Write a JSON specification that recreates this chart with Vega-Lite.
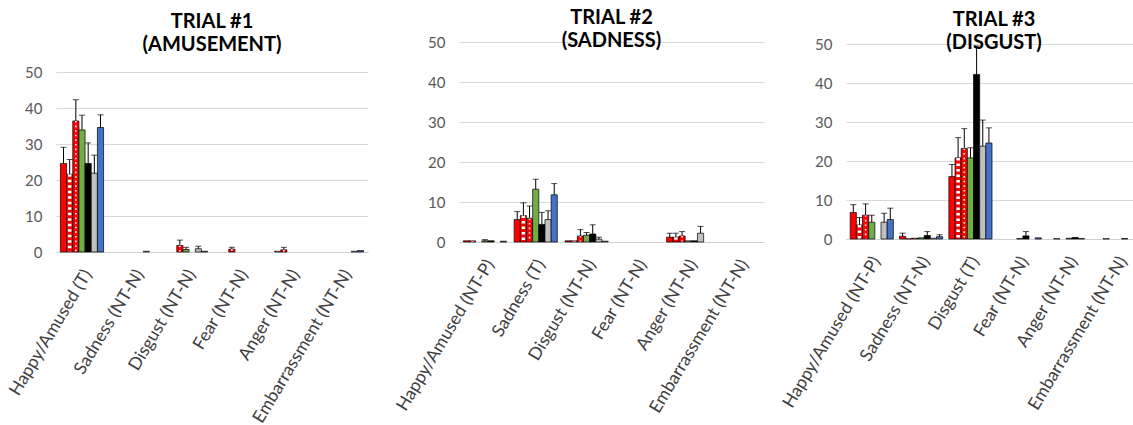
{
  "$schema": "https://vega.github.io/schema/vega-lite/v6.json",
  "padding": {"left": 6, "top": 8, "right": 0, "bottom": 0},
  "background": "white",
  "config": {
    "view": {"stroke": null},
    "font": "Lato",
    "title": {"font": "Lato", "fontSize": 20, "fontWeight": "bold", "color": "#000000", "lineHeight": 23, "anchor": "middle", "frame": "group"},
    "axisY": {"domain": false, "ticks": false, "grid": true, "gridColor": "#d9d9d9", "labelColor": "#595959", "labelFont": "Lato", "labelFontSize": 15, "labelPadding": 14, "title": null, "values": [0, 10, 20, 30, 40, 50]},
    "axisX": {"domain": true, "domainColor": "#d0d0d0", "ticks": false, "grid": false, "labelColor": "#404040", "labelFont": "Lato", "labelFontSize": 17.5, "labelAngle": -59, "labelPadding": 19, "labelOffset": 6, "labelLimit": 0, "labelOverlap": false, "title": null},
    "bar": {"stroke": "#000000", "strokeWidth": 0.7}
  },
  "datasets": {
    "p1": [
      {"c": "Happy/Amused (T)", "s": 0, "v": 24.6, "e": 29.1},
      {"c": "Happy/Amused (T)", "s": 1, "v": 21.6, "e": 25.7},
      {"c": "Happy/Amused (T)", "s": 2, "v": 36.4, "e": 42.3},
      {"c": "Happy/Amused (T)", "s": 3, "v": 33.9, "e": 38.0},
      {"c": "Happy/Amused (T)", "s": 4, "v": 24.6, "e": 30.3},
      {"c": "Happy/Amused (T)", "s": 5, "v": 21.9, "e": 26.9},
      {"c": "Happy/Amused (T)", "s": 6, "v": 34.6, "e": 38.1},
      {"c": "Sadness (NT-N)", "s": 5, "v": 0.2, "e": null},
      {"c": "Disgust (NT-N)", "s": 2, "v": 1.8, "e": 3.3},
      {"c": "Disgust (NT-N)", "s": 3, "v": 0.7, "e": 1.3},
      {"c": "Disgust (NT-N)", "s": 5, "v": 0.9, "e": 1.6},
      {"c": "Disgust (NT-N)", "s": 6, "v": 0.2, "e": null},
      {"c": "Fear (NT-N)", "s": 2, "v": 0.8, "e": 1.3},
      {"c": "Anger (NT-N)", "s": 1, "v": 0.2, "e": null},
      {"c": "Anger (NT-N)", "s": 2, "v": 0.6, "e": 1.3},
      {"c": "Embarrassment (NT-N)", "s": 5, "v": 0.2, "e": null},
      {"c": "Embarrassment (NT-N)", "s": 6, "v": 0.4, "e": null}
    ],
    "p2": [
      {"c": "Happy/Amused (NT-P)", "s": 0, "v": 0.3, "e": null},
      {"c": "Happy/Amused (NT-P)", "s": 1, "v": 0.3, "e": null},
      {"c": "Happy/Amused (NT-P)", "s": 3, "v": 0.3, "e": 0.6},
      {"c": "Happy/Amused (NT-P)", "s": 4, "v": 0.3, "e": null},
      {"c": "Happy/Amused (NT-P)", "s": 6, "v": 0.2, "e": null},
      {"c": "Sadness (T)", "s": 0, "v": 5.6, "e": 7.6},
      {"c": "Sadness (T)", "s": 1, "v": 6.6, "e": 9.8},
      {"c": "Sadness (T)", "s": 2, "v": 5.9, "e": 9.0},
      {"c": "Sadness (T)", "s": 3, "v": 13.2, "e": 15.7},
      {"c": "Sadness (T)", "s": 4, "v": 4.4, "e": 7.4},
      {"c": "Sadness (T)", "s": 5, "v": 5.6, "e": 7.8},
      {"c": "Sadness (T)", "s": 6, "v": 11.8, "e": 14.6},
      {"c": "Disgust (NT-N)", "s": 0, "v": 0.3, "e": null},
      {"c": "Disgust (NT-N)", "s": 1, "v": 0.3, "e": null},
      {"c": "Disgust (NT-N)", "s": 2, "v": 1.5, "e": 3.1},
      {"c": "Disgust (NT-N)", "s": 3, "v": 1.7, "e": 2.4},
      {"c": "Disgust (NT-N)", "s": 4, "v": 2.0, "e": 4.3},
      {"c": "Disgust (NT-N)", "s": 5, "v": 0.7, "e": 1.2},
      {"c": "Disgust (NT-N)", "s": 6, "v": 0.2, "e": null},
      {"c": "Anger (NT-N)", "s": 0, "v": 1.2, "e": 2.2},
      {"c": "Anger (NT-N)", "s": 1, "v": 1.2, "e": 2.2},
      {"c": "Anger (NT-N)", "s": 2, "v": 1.5, "e": 2.6},
      {"c": "Anger (NT-N)", "s": 3, "v": 0.3, "e": null},
      {"c": "Anger (NT-N)", "s": 4, "v": 0.3, "e": null},
      {"c": "Anger (NT-N)", "s": 5, "v": 2.2, "e": 3.9}
    ],
    "p3": [
      {"c": "Happy/Amused (NT-P)", "s": 0, "v": 6.8, "e": 8.8},
      {"c": "Happy/Amused (NT-P)", "s": 1, "v": 3.6, "e": 5.5},
      {"c": "Happy/Amused (NT-P)", "s": 2, "v": 6.1, "e": 9.0},
      {"c": "Happy/Amused (NT-P)", "s": 3, "v": 4.3, "e": 6.1},
      {"c": "Happy/Amused (NT-P)", "s": 5, "v": 4.3, "e": 6.6},
      {"c": "Happy/Amused (NT-P)", "s": 6, "v": 5.0, "e": 7.9},
      {"c": "Sadness (NT-N)", "s": 0, "v": 0.7, "e": 1.5},
      {"c": "Sadness (NT-N)", "s": 1, "v": 0.1, "e": null},
      {"c": "Sadness (NT-N)", "s": 2, "v": 0.2, "e": null},
      {"c": "Sadness (NT-N)", "s": 3, "v": 0.3, "e": null},
      {"c": "Sadness (NT-N)", "s": 4, "v": 0.9, "e": 1.9},
      {"c": "Sadness (NT-N)", "s": 5, "v": 0.2, "e": null},
      {"c": "Sadness (NT-N)", "s": 6, "v": 0.6, "e": 1.1},
      {"c": "Disgust (T)", "s": 0, "v": 16.0, "e": 19.1},
      {"c": "Disgust (T)", "s": 1, "v": 20.8, "e": 26.0},
      {"c": "Disgust (T)", "s": 2, "v": 23.2, "e": 28.3},
      {"c": "Disgust (T)", "s": 3, "v": 20.8, "e": 23.4},
      {"c": "Disgust (T)", "s": 4, "v": 42.2, "e": 49.5},
      {"c": "Disgust (T)", "s": 5, "v": 23.8, "e": 30.5},
      {"c": "Disgust (T)", "s": 6, "v": 24.6, "e": 28.5},
      {"c": "Fear (NT-N)", "s": 3, "v": 0.1, "e": null},
      {"c": "Fear (NT-N)", "s": 4, "v": 0.8, "e": 1.9},
      {"c": "Fear (NT-N)", "s": 6, "v": 0.3, "e": null},
      {"c": "Anger (NT-N)", "s": 1, "v": 0.1, "e": null},
      {"c": "Anger (NT-N)", "s": 3, "v": 0.2, "e": null},
      {"c": "Anger (NT-N)", "s": 4, "v": 0.4, "e": null},
      {"c": "Anger (NT-N)", "s": 5, "v": 0.1, "e": null},
      {"c": "Embarrassment (NT-N)", "s": 1, "v": 0.1, "e": null},
      {"c": "Embarrassment (NT-N)", "s": 4, "v": 0.1, "e": null},
      {"c": "Embarrassment (NT-N)", "s": 6, "v": 0.2, "e": null}
    ]
  },
  "hconcat": [
    {
      "hconcat": [
        {
          "width": 312, "height": 210,
          "title": {"text": ["TRIAL #1", "(AMUSEMENT)"], "offset": -13},
          "data": {"name": "p1"},
          "encoding": {
            "x": {"field": "c", "type": "nominal", "scale": {"domain": ["Happy/Amused (T)", "Sadness (NT-N)", "Disgust (NT-N)", "Fear (NT-N)", "Anger (NT-N)", "Embarrassment (NT-N)"], "paddingInner": 0.17, "paddingOuter": 0.085}},
            "xOffset": {"field": "s", "type": "nominal", "scale": {"domain": [0, 1, 2, 3, 4, 5, 6], "paddingInner": 0, "paddingOuter": 0}}
          },
          "layer": [
            {"mark": {"type": "bar"}, "encoding": {
              "y": {"field": "v", "type": "quantitative", "scale": {"domain": [0, 50], "range": [210, 30]}},
              "fill": {"field": "s", "type": "nominal", "scale": {"domain": [0, 1, 2, 3, 4, 5, 6], "range": ["#ff0000", "#ff0000", "#ff0000", "#70ad47", "#000000", "#c0c0c0", "#4472c4"]}, "legend": null}}},
            {"transform": [{"filter": "datum.s == 1"}], "mark": {"type": "rule", "color": "#ffffff", "strokeWidth": 3.5, "strokeDash": [2.5, 3], "strokeCap": "butt"}, "encoding": {"y": {"field": "v", "type": "quantitative"}, "y2": {"datum": 0.15}}},
            {"transform": [{"filter": "datum.s == 2"}], "mark": {"type": "rule", "color": "#ffffff", "strokeWidth": 1.6, "strokeDash": [1.6, 3], "strokeCap": "butt"}, "encoding": {"y": {"field": "v", "type": "quantitative"}, "y2": {"datum": 0.15}}},
            {"transform": [{"filter": "datum.e != null"}], "mark": {"type": "rule", "color": "#000000", "strokeWidth": 1}, "encoding": {"y": {"field": "v", "type": "quantitative"}, "y2": {"field": "e"}}},
            {"transform": [{"filter": "datum.e != null"}], "mark": {"type": "tick", "color": "#000000", "thickness": 1, "size": 6}, "encoding": {"y": {"field": "e", "type": "quantitative"}}}
          ]
        },
        {
          "width": 305, "height": 200,
          "title": {"text": ["TRIAL #2", "(SADNESS)"], "offset": -16},
          "data": {"name": "p2"},
          "encoding": {
            "x": {"field": "c", "type": "nominal", "scale": {"domain": ["Happy/Amused (NT-P)", "Sadness (T)", "Disgust (NT-N)", "Fear (NT-N)", "Anger (NT-N)", "Embarrassment (NT-N)"], "paddingInner": 0.17, "paddingOuter": 0.085}},
            "xOffset": {"field": "s", "type": "nominal", "scale": {"domain": [0, 1, 2, 3, 4, 5, 6], "paddingInner": 0, "paddingOuter": 0}}
          },
          "layer": [
            {"mark": {"type": "bar"}, "encoding": {
              "y": {"field": "v", "type": "quantitative", "scale": {"domain": [0, 50], "range": [200, 0]}},
              "fill": {"field": "s", "type": "nominal", "scale": {"domain": [0, 1, 2, 3, 4, 5, 6], "range": ["#ff0000", "#ff0000", "#ff0000", "#70ad47", "#000000", "#c0c0c0", "#4472c4"]}, "legend": null}}},
            {"transform": [{"filter": "datum.s == 1"}], "mark": {"type": "rule", "color": "#ffffff", "strokeWidth": 3.5, "strokeDash": [2.5, 3], "strokeCap": "butt"}, "encoding": {"y": {"field": "v", "type": "quantitative"}, "y2": {"datum": 0.15}}},
            {"transform": [{"filter": "datum.s == 2"}], "mark": {"type": "rule", "color": "#ffffff", "strokeWidth": 1.6, "strokeDash": [1.6, 3], "strokeCap": "butt"}, "encoding": {"y": {"field": "v", "type": "quantitative"}, "y2": {"datum": 0.15}}},
            {"transform": [{"filter": "datum.e != null"}], "mark": {"type": "rule", "color": "#000000", "strokeWidth": 1}, "encoding": {"y": {"field": "v", "type": "quantitative"}, "y2": {"field": "e"}}},
            {"transform": [{"filter": "datum.e != null"}], "mark": {"type": "tick", "color": "#000000", "thickness": 1, "size": 6}, "encoding": {"y": {"field": "e", "type": "quantitative"}}}
          ]
        }
      ],
      "spacing": 25
    },
    {
      "width": 296, "height": 197,
      "title": {"text": ["TRIAL #3", "(DISGUST)"], "offset": -16},
      "data": {"name": "p3"},
      "encoding": {
        "x": {"field": "c", "type": "nominal", "scale": {"domain": ["Happy/Amused (NT-P)", "Sadness (NT-N)", "Disgust (T)", "Fear (NT-N)", "Anger (NT-N)", "Embarrassment (NT-N)"], "paddingInner": 0.17, "paddingOuter": 0.085}},
        "xOffset": {"field": "s", "type": "nominal", "scale": {"domain": [0, 1, 2, 3, 4, 5, 6], "paddingInner": 0, "paddingOuter": 0}}
      },
      "layer": [
        {"mark": {"type": "bar"}, "encoding": {
          "y": {"field": "v", "type": "quantitative", "scale": {"domain": [0, 50], "range": [197, 2]}},
          "fill": {"field": "s", "type": "nominal", "scale": {"domain": [0, 1, 2, 3, 4, 5, 6], "range": ["#ff0000", "#ff0000", "#ff0000", "#70ad47", "#000000", "#c0c0c0", "#4472c4"]}, "legend": null}}},
        {"transform": [{"filter": "datum.s == 1"}], "mark": {"type": "rule", "color": "#ffffff", "strokeWidth": 3.5, "strokeDash": [2.5, 3], "strokeCap": "butt"}, "encoding": {"y": {"field": "v", "type": "quantitative"}, "y2": {"datum": 0.15}}},
        {"transform": [{"filter": "datum.s == 2"}], "mark": {"type": "rule", "color": "#ffffff", "strokeWidth": 1.6, "strokeDash": [1.6, 3], "strokeCap": "butt"}, "encoding": {"y": {"field": "v", "type": "quantitative"}, "y2": {"datum": 0.15}}},
        {"transform": [{"filter": "datum.e != null"}], "mark": {"type": "rule", "color": "#000000", "strokeWidth": 1}, "encoding": {"y": {"field": "v", "type": "quantitative"}, "y2": {"field": "e"}}},
        {"transform": [{"filter": "datum.e != null"}], "mark": {"type": "tick", "color": "#000000", "thickness": 1, "size": 6}, "encoding": {"y": {"field": "e", "type": "quantitative"}}}
      ]
    }
  ],
  "spacing": 15
}
